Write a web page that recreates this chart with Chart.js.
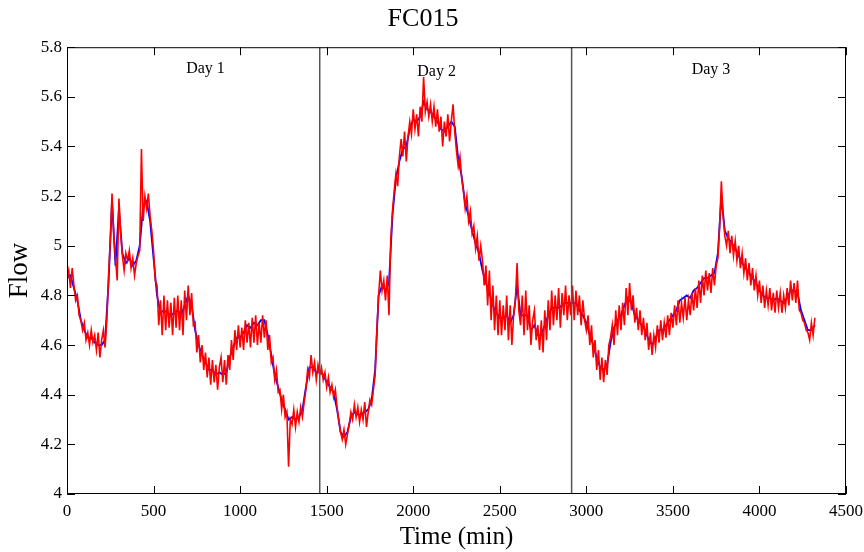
<!DOCTYPE html>
<html>
<head>
    <title>FC015</title>
    <script src="https://cdn.jsdelivr.net/npm/chart.js@4.4.1/dist/chart.umd.min.js"></script>
    <style>
        html, body { margin: 0; padding: 0; background: white; }
        .chart-container { position: relative; width: 864px; height: 552px; }
    </style>
</head>
<body>
    <div class="chart-container">
        <canvas id="flowChart"></canvas>
    </div>

    <script>
        // sample spacing (min) of each series
        const redStep = 10;
        const blueStep = 20;

        const redFlow = [
            4.86,4.90,4.83,4.91,4.84,4.78,4.80,4.72,4.70,4.66,
            4.69,4.62,4.65,4.60,4.66,4.61,4.64,4.58,4.65,4.55,
            4.62,4.66,4.59,4.70,4.88,5.02,5.21,5.05,4.95,4.86,
            5.19,5.05,4.96,4.90,4.97,4.94,4.98,4.91,4.95,4.88,
            4.93,4.96,4.98,5.39,5.10,5.20,5.15,5.21,5.12,5.06,
            4.98,4.86,4.84,4.68,4.78,4.64,4.80,4.66,4.78,4.67,
            4.77,4.64,4.79,4.67,4.80,4.66,4.78,4.64,4.82,4.70,
            4.84,4.72,4.81,4.68,4.69,4.57,4.64,4.53,4.60,4.50,
            4.57,4.47,4.55,4.44,4.54,4.45,4.52,4.42,4.51,4.55,
            4.45,4.54,4.44,4.56,4.50,4.62,4.54,4.66,4.58,4.68,
            4.59,4.67,4.58,4.70,4.61,4.69,4.59,4.71,4.61,4.72,
            4.60,4.69,4.61,4.72,4.63,4.70,4.58,4.64,4.53,4.55,
            4.46,4.50,4.41,4.42,4.34,4.40,4.31,4.33,4.11,4.30,
            4.28,4.34,4.27,4.33,4.29,4.35,4.31,4.37,4.42,4.50,
            4.47,4.56,4.49,4.53,4.46,4.52,4.48,4.51,4.46,4.49,
            4.43,4.47,4.41,4.44,4.39,4.42,4.35,4.30,4.25,4.22,
            4.26,4.20,4.24,4.28,4.33,4.30,4.36,4.31,4.35,4.29,
            4.34,4.30,4.37,4.27,4.33,4.38,4.36,4.42,4.48,4.66,
            4.80,4.90,4.82,4.86,4.78,4.88,4.72,5.02,5.14,5.22,
            5.29,5.24,5.36,5.43,5.36,5.46,5.34,5.44,5.50,5.45,
            5.55,5.47,5.53,5.44,5.56,5.50,5.68,5.54,5.58,5.52,
            5.57,5.50,5.56,5.48,5.55,5.46,5.52,5.40,5.50,5.44,
            5.53,5.42,5.50,5.57,5.46,5.38,5.32,5.36,5.27,5.22,
            5.15,5.20,5.10,5.14,5.05,5.08,4.99,5.04,4.94,5.00,
            4.94,4.84,4.92,4.76,4.90,4.70,4.84,4.66,4.80,4.64,
            4.78,4.64,4.76,4.66,4.80,4.62,4.76,4.60,4.72,4.78,
            4.93,4.74,4.68,4.80,4.64,4.82,4.66,4.76,4.60,4.70,
            4.74,4.62,4.68,4.58,4.70,4.57,4.74,4.62,4.78,4.66,
            4.82,4.68,4.80,4.70,4.83,4.67,4.81,4.72,4.84,4.70,
            4.80,4.72,4.84,4.70,4.82,4.72,4.80,4.68,4.78,4.70,
            4.66,4.72,4.60,4.68,4.55,4.62,4.50,4.58,4.46,4.55,
            4.45,4.54,4.48,4.60,4.63,4.68,4.60,4.74,4.64,4.76,
            4.66,4.77,4.68,4.83,4.72,4.85,4.74,4.80,4.69,4.75,
            4.66,4.74,4.64,4.71,4.62,4.69,4.58,4.65,4.56,4.64,
            4.59,4.68,4.61,4.70,4.62,4.69,4.63,4.72,4.64,4.73,
            4.67,4.76,4.68,4.78,4.69,4.77,4.71,4.79,4.70,4.78,
            4.72,4.81,4.74,4.83,4.75,4.86,4.77,4.88,4.80,4.90,
            4.82,4.89,4.81,4.91,4.84,4.92,4.95,5.08,5.26,5.12,
            5.04,5.00,5.06,4.97,5.04,4.96,5.02,4.94,5.00,4.91,
            4.97,4.89,4.95,4.86,4.93,4.84,4.91,4.82,4.88,4.80,
            4.86,4.77,4.84,4.75,4.82,4.76,4.83,4.74,4.81,4.73,
            4.82,4.75,4.81,4.73,4.80,4.75,4.83,4.76,4.86,4.78,
            4.85,4.77,4.86,4.74,4.73,4.70,4.69,4.66,4.65,4.62,
            4.69,4.64,4.71
        ];

        const blueFlow = [
            4.87,4.88,4.83,4.78,4.70,4.66,4.63,4.63,4.61,4.60,
            4.60,4.62,4.85,5.18,4.92,5.15,4.97,4.93,4.95,4.92,
            4.94,5.00,5.16,5.18,5.10,4.95,4.80,4.73,4.74,4.73,
            4.72,4.73,4.74,4.72,4.76,4.80,4.76,4.66,4.60,4.56,
            4.53,4.50,4.50,4.48,4.49,4.48,4.49,4.55,4.59,4.63,
            4.63,4.65,4.68,4.67,4.69,4.68,4.70,4.70,4.64,4.56,
            4.48,4.43,4.38,4.34,4.30,4.31,4.30,4.31,4.34,4.43,
            4.51,4.51,4.49,4.49,4.48,4.45,4.43,4.41,4.34,4.25,
            4.23,4.25,4.31,4.33,4.32,4.32,4.33,4.34,4.38,4.50,
            4.80,4.84,4.82,4.85,5.12,5.27,5.34,5.39,5.40,5.47,
            5.51,5.50,5.52,5.58,5.55,5.54,5.52,5.50,5.47,5.46,
            5.48,5.50,5.48,5.35,5.28,5.17,5.12,5.06,5.01,4.97,
            4.90,4.85,4.81,4.76,4.73,4.71,4.71,4.72,4.69,4.72,
            4.84,4.72,4.72,4.72,4.66,4.68,4.64,4.64,4.68,4.72,
            4.75,4.75,4.75,4.76,4.77,4.77,4.77,4.77,4.74,4.72,
            4.69,4.64,4.60,4.55,4.51,4.50,4.52,4.61,4.67,4.70,
            4.72,4.76,4.79,4.77,4.72,4.70,4.68,4.66,4.62,4.60,
            4.63,4.66,4.66,4.68,4.70,4.72,4.74,4.78,4.79,4.80,
            4.79,4.82,4.83,4.85,4.87,4.87,4.88,4.89,4.97,5.20,
            5.06,5.03,5.01,4.99,4.96,4.93,4.91,4.89,4.87,4.85,
            4.82,4.80,4.79,4.79,4.78,4.79,4.78,4.77,4.79,4.82,
            4.82,4.81,4.74,4.70,4.66,4.66,4.68
        ];

        const dayBounds = [1460, 2915];
        const dayLabels = ['Day 1', 'Day 2', 'Day 3'];
        const dayLabelX = [800, 2135, 3720];
        const dayLabelY = [5.715, 5.70, 5.71];

        const serif = '"Liberation Serif", "DejaVu Serif", serif';

        const toPoints = (vals, step) => vals.map((v, i) => ({ x: i * step, y: v }));

        // box, inward ticks, day separators and day captions
        const framePlugin = {
            id: 'frame',
            afterDatasetsDraw(chart) {
                const { ctx, chartArea: a, scales: { x } } = chart;
                ctx.save();
                ctx.strokeStyle = '#555';
                ctx.lineWidth = 1.5;
                dayBounds.forEach(t => {
                    const px = x.getPixelForValue(t);
                    ctx.beginPath();
                    ctx.moveTo(px, a.top);
                    ctx.lineTo(px, a.bottom);
                    ctx.stroke();
                });
                ctx.restore();
            },
            afterDraw(chart) {
                const { ctx, chartArea: a, scales: { x, y } } = chart;
                const len = 8;
                ctx.save();
                ctx.strokeStyle = '#000';
                ctx.lineWidth = 1;
                ctx.strokeRect(a.left + 0.5, a.top + 0.5, a.right - a.left - 1, a.bottom - a.top - 1);
                ctx.beginPath();
                x.ticks.forEach(t => {
                    const px = Math.round(x.getPixelForValue(t.value)) + 0.5;
                    ctx.moveTo(px, a.bottom); ctx.lineTo(px, a.bottom - len);
                    ctx.moveTo(px, a.top); ctx.lineTo(px, a.top + len);
                });
                y.ticks.forEach(t => {
                    const py = Math.round(y.getPixelForValue(t.value)) + 0.5;
                    ctx.moveTo(a.left, py); ctx.lineTo(a.left + len, py);
                    ctx.moveTo(a.right, py); ctx.lineTo(a.right - len, py);
                });
                ctx.stroke();

                ctx.fillStyle = '#000';
                ctx.font = '16px ' + serif;
                ctx.textAlign = 'center';
                ctx.textBaseline = 'middle';
                dayLabels.forEach((lbl, i) => {
                    ctx.fillText(lbl, x.getPixelForValue(dayLabelX[i]), y.getPixelForValue(dayLabelY[i]));
                });
                ctx.restore();
            }
        };

        const ctx = document.getElementById('flowChart').getContext('2d');
        new Chart(ctx, {
            type: 'line',
            data: {
                datasets: [{
                    label: 'red',
                    data: toPoints(redFlow, redStep),
                    borderColor: '#ff0000',
                    borderWidth: 1.6,
                    pointRadius: 0,
                    tension: 0
                }, {
                    label: 'blue',
                    data: toPoints(blueFlow, blueStep),
                    borderColor: '#0000ff',
                    borderWidth: 1.8,
                    pointRadius: 0,
                    tension: 0
                }]
            },
            options: {
                responsive: true,
                maintainAspectRatio: false,
                animation: false,
                layout: { padding: { left: 0, right: 18, top: 0, bottom: 0 } },
                plugins: {
                    legend: { display: false },
                    tooltip: { enabled: false },
                    title: {
                        display: true,
                        text: 'FC015',
                        color: '#000',
                        font: { family: serif, size: 26, weight: 'normal' },
                        padding: { top: 4, bottom: 12 }
                    }
                },
                scales: {
                    x: {
                        type: 'linear',
                        min: 0,
                        max: 4500,
                        grid: { display: false, drawTicks: false },
                        border: { display: false },
                        ticks: {
                            stepSize: 500,
                            padding: 7,
                            color: '#000',
                            maxRotation: 0,
                            font: { family: serif, size: 17 },
                            callback: v => String(v)
                        },
                        title: {
                            display: true,
                            text: 'Time (min)',
                            color: '#000',
                            font: { family: serif, size: 25 },
                            padding: { top: 0, bottom: 0 }
                        },
                        afterFit: s => { s.height = 58; s.paddingLeft = 0; s.paddingRight = 0; }
                    },
                    y: {
                        min: 4,
                        max: 5.8,
                        grid: { display: false, drawTicks: false },
                        border: { display: false },
                        ticks: {
                            stepSize: 0.2,
                            padding: 5,
                            color: '#000',
                            font: { family: serif, size: 17 },
                            callback: v => String(Number(v.toFixed(1)))
                        },
                        title: {
                            display: true,
                            text: 'Flow',
                            color: '#000',
                            font: { family: serif, size: 27 },
                            padding: { top: 4, bottom: 0 }
                        },
                        afterFit: s => { s.width = 67; }
                    }
                }
            },
            plugins: [framePlugin]
        });
    </script>
</body>
</html>
